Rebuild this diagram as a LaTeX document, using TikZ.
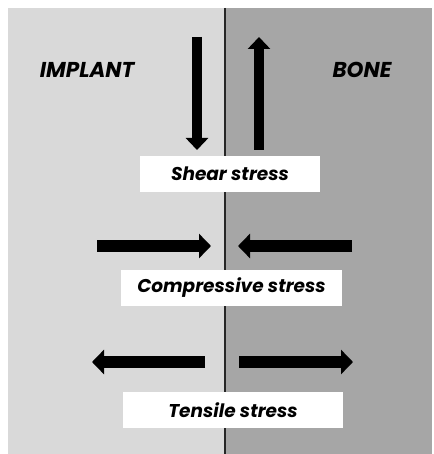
\documentclass[tikz,border=0pt]{standalone}
\usepackage{fontspec}
\setsansfont{Poppins}
\usetikzlibrary{arrows.meta,positioning}
\definecolor{implantgray}{HTML}{D9D9D9}
\definecolor{bonegray}{HTML}{A6A6A6}

\begin{document}
\begin{tikzpicture}[
    x=1pt, y=-1pt,
    side/.style={font=\sffamily\bfseries\itshape\fontsize{21.5}{21.5}\selectfont},
    stressbox/.style={fill=white, inner sep=0pt, minimum height=36pt,
      font=\sffamily\bfseries\itshape\fontsize{18.5}{18.5}\selectfont},
    vforce/.style={line width=10pt, -{Triangle[width=22pt,length=12pt]}},
    hforce/.style={line width=12pt, -{Triangle[width=24pt,length=12pt]}}
  ]
    \useasboundingbox (0,0) rectangle (433,454);
    % the two materials and their interface
    \fill[implantgray] (8,8) rectangle (225,454);
    \fill[bonegray] (225,8) rectangle (432,454);
    \draw[line width=2pt, black!85] (225,8) -- (225,454);

    \node[side] (implant) at (87,70) {IMPLANT};
    \node[side] (bone) at (362,70) {BONE};

    % shear
    \coordinate (sdtop) at (197,37);
    \coordinate (sdbot) at (197,150);
    \coordinate (sutop) at (259,37);
    \coordinate (subot) at (259,150);
    \draw[vforce] (sdtop) -- (sdbot);
    \draw[vforce] (subot) -- (sutop);
    \node[stressbox, minimum width=180pt] (shear) at (230,174) {Shear stress};

    % compression
    \coordinate (cl) at (97,246);
    \coordinate (clt) at (211,246);
    \coordinate (cr) at (352,246);
    \coordinate (crt) at (238,246);
    \draw[hforce] (cl) -- (clt);
    \draw[hforce] (cr) -- (crt);
    \node[stressbox, minimum width=221pt] (compr) at (231.5,288) {Compressive stress};

    % tension
    \coordinate (tl) at (205,362);
    \coordinate (tlt) at (92,362);
    \coordinate (tr) at (239,362);
    \coordinate (trt) at (353,362);
    \draw[hforce] (tl) -- (tlt);
    \draw[hforce] (tr) -- (trt);
    \node[stressbox, minimum width=220pt] (tens) at (233,410) {Tensile stress};
  \end{tikzpicture}
\end{document}
